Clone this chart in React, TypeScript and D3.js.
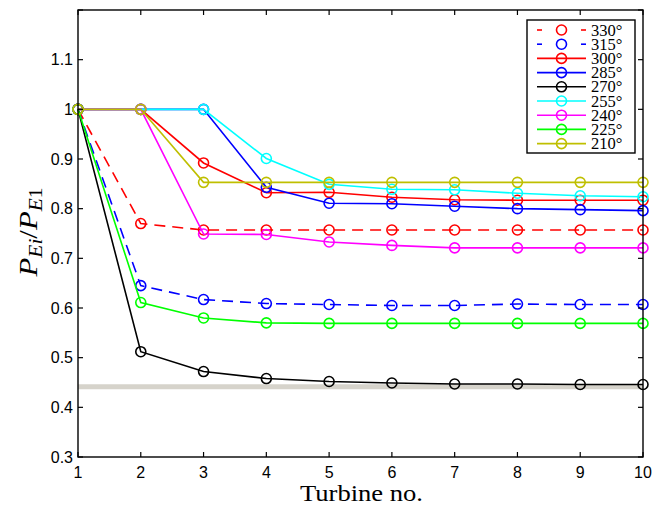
import React from "react";
import * as d3 from "d3";

const turbines = [1, 2, 3, 4, 5, 6, 7, 8, 9, 10];
const yTicks = [0.3, 0.4, 0.5, 0.6, 0.7, 0.8, 0.9, 1.0, 1.1, 1.2];
const yTickLabels = ["0.3", "0.4", "0.5", "0.6", "0.7", "0.8", "0.9", "1", "1.1", ""];

const seriesNames = ["330°", "315°", "300°", "285°", "270°", "255°", "240°", "225°", "210°"];
const seriesColors = ["#ff0000", "#0000ff", "#ff0000", "#0000ff", "#000000", "#00ffff", "#ff00ff", "#00ff00", "#bfbf00"];
const seriesDashed = [true, true, false, false, false, false, false, false, false];

const s330 = [1, 0.77, 0.757, 0.757, 0.757, 0.757, 0.757, 0.757, 0.757, 0.757];
const s315 = [1, 0.645, 0.617, 0.609, 0.607, 0.605, 0.605, 0.608, 0.607, 0.607];
const s300 = [1, 1, 0.892, 0.832, 0.833, 0.823, 0.818, 0.817, 0.817, 0.817];
const s285 = [1, 1, 1, 0.843, 0.811, 0.810, 0.805, 0.800, 0.798, 0.796];
const s270 = [1, 0.512, 0.472, 0.458, 0.452, 0.449, 0.447, 0.447, 0.446, 0.446];
const s255 = [1, 1, 1, 0.901, 0.849, 0.839, 0.838, 0.831, 0.826, 0.824];
const s240 = [1, 1, 0.749, 0.748, 0.733, 0.726, 0.721, 0.721, 0.721, 0.721];
const s225 = [1, 0.611, 0.580, 0.570, 0.569, 0.569, 0.569, 0.569, 0.569, 0.569];
const s210 = [1, 1, 0.853, 0.853, 0.853, 0.853, 0.853, 0.853, 0.853, 0.853];
const seriesValues = [s330, s315, s300, s285, s270, s255, s240, s225, s210];

const refLevel = 0.4415;

const SANS = "'Liberation Sans', Arial, Helvetica, sans-serif";
const SERIF = "'Liberation Serif', 'Times New Roman', Times, serif";

export default function App() {
  const W = 664, H = 507;
  const left = 78, right = 643, top = 10, bottom = 457;
  const x = d3.scaleLinear().domain([1, 10]).range([left, right]);
  const y = d3.scaleLinear().domain([0.3, 1.2]).range([bottom, top]);
  const line = d3.line<number>().x((_, i) => x(turbines[i])).y((d) => y(d));
  const tickLen = 5;

  const legX = 527, legY = 20, legW = 108, legH = 133;
  const rowH = 14.2;

  return (
    <svg width={W} height={H} style={{ position: "absolute", left: 0, top: 0, background: "#fff" }}>
      <rect x={0} y={0} width={W} height={H} fill="#fff" />
      <line x1={x(1)} x2={x(10)} y1={y(refLevel)} y2={y(refLevel)} stroke="#d6d3cb" strokeWidth={5} />
      {seriesValues.map((vals, si) => (
        <g key={si}>
          <path d={line(vals) || ""} fill="none" stroke={seriesColors[si]} strokeWidth={1.6}
            strokeDasharray={seriesDashed[si] ? "11,7" : undefined} />
          {vals.map((v, i) => (
            <circle key={i} cx={x(turbines[i])} cy={y(v)} r={5} fill="none" stroke={seriesColors[si]} strokeWidth={1.6} />
          ))}
        </g>
      ))}
      <rect x={left} y={top} width={right - left} height={bottom - top} fill="none" stroke="#000" strokeWidth={1.4} />
      {turbines.map((t) => (
        <g key={"xt" + t}>
          <line x1={x(t)} x2={x(t)} y1={bottom} y2={bottom - tickLen} stroke="#000" strokeWidth={1.2} />
          <line x1={x(t)} x2={x(t)} y1={top} y2={top + tickLen} stroke="#000" strokeWidth={1.2} />
          <text x={x(t)} y={478} textAnchor="middle" style={{ fontFamily: SANS, fontSize: 16 }} fill="#000">{t}</text>
        </g>
      ))}
      {yTicks.map((t, i) => (
        <g key={"yt" + i}>
          <line x1={left} x2={left + tickLen} y1={y(t)} y2={y(t)} stroke="#000" strokeWidth={1.2} />
          <line x1={right} x2={right - tickLen} y1={y(t)} y2={y(t)} stroke="#000" strokeWidth={1.2} />
          <text x={73} y={y(t) + 5.5} textAnchor="end" style={{ fontFamily: SANS, fontSize: 16 }} fill="#000">{yTickLabels[i]}</text>
        </g>
      ))}
      <text x={361.5} y={501} textAnchor="middle" style={{ fontFamily: SERIF, fontSize: 23 }}
        textLength={123} lengthAdjust="spacingAndGlyphs" fill="#000">Turbine no.</text>
      <text transform="translate(37,232) rotate(-90)" textAnchor="middle" style={{ fontFamily: SERIF, fontSize: 26 }}
        textLength={89} lengthAdjust="spacingAndGlyphs" fill="#000">
        <tspan fontStyle="italic">P</tspan>
        <tspan fontStyle="italic" fontSize={18} dy={5}>Ei</tspan>
        <tspan dy={-5}>/</tspan>
        <tspan fontStyle="italic">P</tspan>
        <tspan fontStyle="italic" fontSize={18} dy={5}>E</tspan>
        <tspan fontSize={18}>1</tspan>
      </text>
      <rect x={legX} y={legY} width={legW} height={legH} fill="#fff" stroke="#000" strokeWidth={1.4} />
      {seriesNames.map((name, si) => {
        const cy = legY + 10 + si * rowH;
        return (
          <g key={"lg" + si}>
            {seriesDashed[si] ? (
              <>
                <line x1={537} x2={542} y1={cy} y2={cy} stroke={seriesColors[si]} strokeWidth={1.6} />
                <line x1={581} x2={586} y1={cy} y2={cy} stroke={seriesColors[si]} strokeWidth={1.6} />
              </>
            ) : (
              <line x1={537} x2={586} y1={cy} y2={cy} stroke={seriesColors[si]} strokeWidth={1.6} />
            )}
            <circle cx={561.5} cy={cy} r={5} fill="none" stroke={seriesColors[si]} strokeWidth={1.6} />
            <text x={591} y={cy + 5.5} style={{ fontFamily: SERIF, fontSize: 16.5 }} fill="#000">{name}</text>
          </g>
        );
      })}
    </svg>
  );
}
